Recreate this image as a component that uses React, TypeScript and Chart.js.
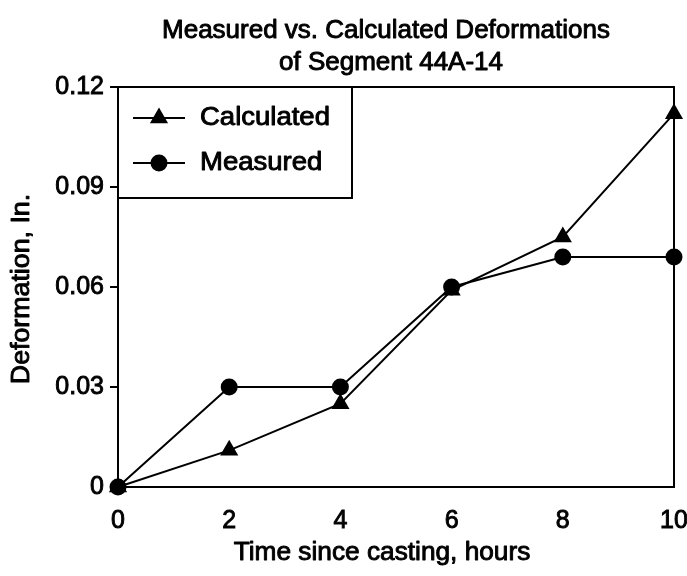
import React, { useEffect, useRef } from 'react';
import { Chart, registerables } from 'chart.js';

Chart.register(...registerables);

const titleLines = ['Measured vs. Calculated Deformations', 'of Segment 44A-14'];
const xAxisTitle = 'Time since casting, hours';
const yAxisTitle = 'Deformation, In.';
const seriesNames = ['Calculated', 'Measured'];
const hours = [0, 2, 4, 6, 8, 10];
const calculated = [0, 0.011, 0.025, 0.059, 0.075, 0.112];
const measured = [0, 0.030, 0.030, 0.060, 0.069, 0.069];
const xTickValues = [0, 2, 4, 6, 8, 10];
const yTickValues = [0, 0.03, 0.06, 0.09, 0.12];
const yTickLabels = ['0', '0.03', '0.06', '0.09', '0.12'];

const FONT = '"Liberation Sans", Arial, Helvetica, sans-serif';
const TEXT_STROKE = 0.9;

function drawTriangle(ctx: CanvasRenderingContext2D, x: number, y: number, r: number) {
  ctx.beginPath();
  let rad = 0;
  ctx.moveTo(x + Math.sin(rad) * r, y - Math.cos(rad) * r);
  rad += (2 * Math.PI) / 3;
  ctx.lineTo(x + Math.sin(rad) * r, y - Math.cos(rad) * r);
  rad += (2 * Math.PI) / 3;
  ctx.lineTo(x + Math.sin(rad) * r, y - Math.cos(rad) * r);
  ctx.closePath();
  ctx.fill();
}

function wideText(
  ctx: CanvasRenderingContext2D,
  text: string,
  x: number,
  y: number,
  align: 'left' | 'center',
  sx: number,
  rot = 0
) {
  ctx.save();
  ctx.translate(x, y);
  if (rot) ctx.rotate(rot);
  ctx.scale(sx, 1);
  ctx.textAlign = align;
  ctx.textBaseline = 'middle';
  ctx.lineWidth = TEXT_STROKE;
  ctx.lineJoin = 'round';
  ctx.strokeText(text, 0, 0);
  ctx.fillText(text, 0, 0);
  ctx.restore();
}

const decorPlugin = {
  id: 'decor',
  afterDraw(chart: any) {
    const { ctx, chartArea: a } = chart;
    ctx.save();
    ctx.strokeStyle = '#000';
    ctx.fillStyle = '#000';
    ctx.lineWidth = 2;
    ctx.strokeRect(a.left, a.top, a.right - a.left, a.bottom - a.top);

    ctx.font = `25px ${FONT}`;
    wideText(ctx, titleLines[0], 386, 31, 'center', 1.04);
    wideText(ctx, titleLines[1], 391, 63, 'center', 1.04);
    wideText(ctx, xAxisTitle, 382, 553, 'center', 1.05);
    ctx.font = `25px ${FONT}`;
    wideText(ctx, yAxisTitle, 22, 289, 'center', 1.07, -Math.PI / 2);

    // legend box sharing the top and left axis lines
    const lx = a.left;
    const ly = a.top;
    const lw = 234;
    const lh = 111;
    ctx.lineWidth = 2;
    ctx.beginPath();
    ctx.moveTo(lx + lw, ly);
    ctx.lineTo(lx + lw, ly + lh);
    ctx.lineTo(lx, ly + lh);
    ctx.stroke();

    const rows = [ly + 31, ly + 76];
    rows.forEach((ry, i) => {
      ctx.lineWidth = 2;
      ctx.beginPath();
      ctx.moveTo(lx + 15, ry);
      ctx.lineTo(lx + 67, ry);
      ctx.stroke();
      if (i === 0) {
        drawTriangle(ctx, lx + 41, ry, 10.5);
      } else {
        ctx.beginPath();
        ctx.arc(lx + 41, ry, 8.5, 0, Math.PI * 2);
        ctx.fill();
      }
      ctx.font = `25px ${FONT}`;
      wideText(ctx, seriesNames[i], lx + 82, ry, 'left', 1.1);
    });
    ctx.restore();
  },
};

export default function App() {
  const ref = useRef<HTMLCanvasElement>(null);
  useEffect(() => {
    if (!ref.current) return;
    const chart = new Chart(ref.current, {
      type: 'line',
      data: {
        datasets: [
          {
            label: seriesNames[0],
            data: hours.map((h, i) => ({ x: h, y: calculated[i] })),
            borderColor: '#000',
            backgroundColor: '#000',
            borderWidth: 2,
            pointStyle: 'triangle',
            pointRadius: 10.5,
            pointBorderWidth: 0,
            clip: false,
          },
          {
            label: seriesNames[1],
            data: hours.map((h, i) => ({ x: h, y: measured[i] })),
            borderColor: '#000',
            backgroundColor: '#000',
            borderWidth: 2,
            pointStyle: 'circle',
            pointRadius: 8.5,
            pointBorderWidth: 0,
            clip: false,
          },
        ],
      },
      options: {
        animation: false,
        responsive: false,
        devicePixelRatio: 1,
        layout: { padding: { top: 87, right: 13, left: 0, bottom: 0 } },
        plugins: {
          legend: { display: false },
          title: { display: false },
          tooltip: { enabled: false },
        },
        scales: {
          x: {
            type: 'linear',
            min: 0,
            max: 10,
            afterBuildTicks: (s: any) => {
              s.ticks = xTickValues.map((v) => ({ value: v }));
            },
            afterFit: (s: any) => {
              s.height = 89;
              s.paddingLeft = 0;
              s.paddingRight = 0;
            },
            grid: { display: false },
            border: { display: false },
            ticks: {
              color: '#000',
              font: { family: FONT, size: 25 },
              padding: 11,
              maxRotation: 0,
              autoSkip: false,
              textStrokeColor: '#000',
              textStrokeWidth: TEXT_STROKE,
            },
          },
          y: {
            type: 'linear',
            min: 0,
            max: 0.12,
            afterBuildTicks: (s: any) => {
              s.ticks = yTickValues.map((v) => ({ value: v }));
            },
            afterFit: (s: any) => {
              s.width = 118;
              s.paddingTop = 0;
              s.paddingBottom = 0;
            },
            grid: {
              drawOnChartArea: false,
              drawTicks: true,
              tickLength: 8,
              color: '#000',
              lineWidth: 2,
            },
            border: { display: false },
            ticks: {
              color: '#000',
              font: { family: FONT, size: 25 },
              padding: 6,
              textStrokeColor: '#000',
              textStrokeWidth: TEXT_STROKE,
              callback: (_v: any, i: number) => yTickLabels[i],
            },
          },
        },
      },
      plugins: [decorPlugin],
    });
    return () => chart.destroy();
  }, []);
  return (
    <div style={{ position: 'absolute', left: 0, top: 0, width: 687, height: 576, background: '#fff' }}>
      <canvas ref={ref} width={687} height={576} />
    </div>
  );
}
